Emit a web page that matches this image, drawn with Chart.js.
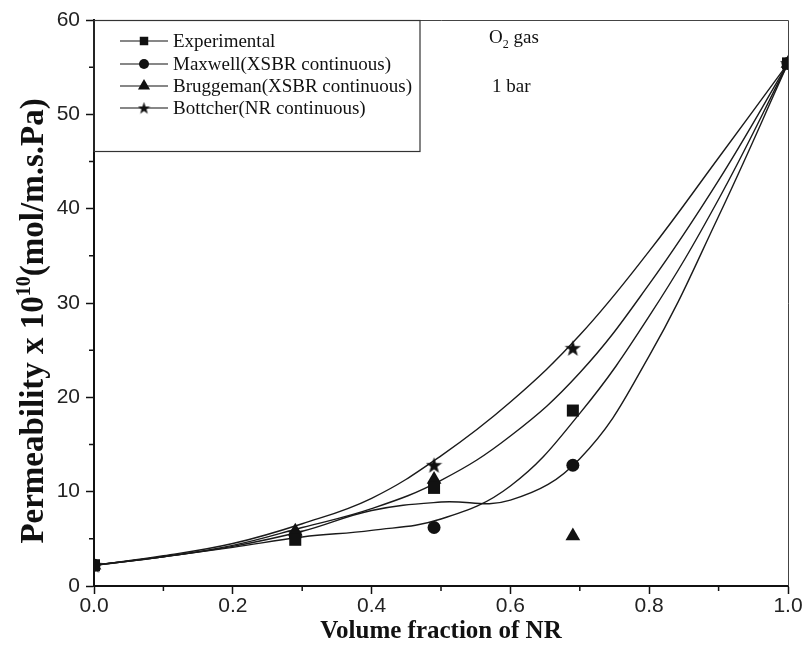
<!DOCTYPE html>
<html>
<head>
<meta charset="utf-8">
<title>Permeability vs volume fraction of NR</title>
<script src="https://cdn.jsdelivr.net/npm/chart.js@4.4.0/dist/chart.umd.min.js"></script>
<style>
    html, body { margin: 0; padding: 0; background: #fff; }
    #wrap { width: 806px; height: 651px; }
</style>
</head>
<body>
<div id="wrap"><canvas id="permChart" width="806" height="651"></canvas></div>
<script>
// Measured points (volume fraction of NR)
const fractionNR = [0, 0.29, 0.49, 0.69, 1.0];
const experimental = [2.2, 4.9, 10.4, 18.6, 55.4];
const maxwell = [2.2, 5.3, 6.2, 12.8, 55.4];
const bruggeman = [2.2, 5.8, 11.3, 5.3, 55.4];
const bottcher = [2.2, 5.6, 12.8, 25.2, 55.4];

// Fitted curves at every 0.1
const fitX = [0, 0.1, 0.2, 0.3, 0.4, 0.5, 0.6, 0.7, 0.8, 0.9, 1.0];
const bottcherFit = [2.2, 3.2, 4.5, 6.6, 9.3, 13.8, 19.5, 26.6, 35.5, 45.4, 55.4];
const bruggemanFit = [2.2, 3.1, 4.3, 6.2, 8.2, 11.2, 15.9, 22.6, 32.0, 43.0, 55.4];
const experimentalFit = [2.2, 3.1, 4.1, 5.2, 5.9, 7.1, 10.6, 18.3, 28.6, 41.0, 55.4];
const maxwellFit = [2.2, 3.1, 4.2, 5.8, 8.0, 8.9, 9.1, 13.5, 24.4, 39.2, 55.4];

// Axis ticks
const xMajorTicks = [0, 0.2, 0.4, 0.6, 0.8, 1.0];
const xTickLabels = ['0.0', '0.2', '0.4', '0.6', '0.8', '1.0'];
const xMinorTicks = [0.1, 0.3, 0.5, 0.7, 0.9];
const yMajorTicks = [0, 10, 20, 30, 40, 50, 60];
const yTickLabels = ['0', '10', '20', '30', '40', '50', '60'];
const yMinorTicks = [5, 15, 25, 35, 45, 55];

const INK = '#111';

function toPoints(xs, ys) {
    return xs.map((x, i) => ({ x: x, y: ys[i] }));
}

// filled five point star used as a marker
function makeStar(size) {
    const c = document.createElement('canvas');
    c.width = size;
    c.height = size;
    const g = c.getContext('2d');
    g.fillStyle = INK;
    g.beginPath();
    for (let i = 0; i < 10; i++) {
        const r = i % 2 === 0 ? size / 2 : size * 0.2;
        const a = -Math.PI / 2 + i * Math.PI / 5;
        const px = size / 2 + r * Math.cos(a);
        const py = size / 2 + 0.5 + r * Math.sin(a);
        if (i === 0) g.moveTo(px, py); else g.lineTo(px, py);
    }
    g.closePath();
    g.fill();
    return c;
}

const starBig = makeStar(17);
const starSmall = makeStar(13);

function majorIndex(list, v) {
    return list.findIndex(t => Math.abs(t - v) < 1e-6);
}

// frame, minor ticks, legend box, notes and axis titles
const decorPlugin = {
    id: 'decor',
    afterDraw(chart) {
        const ctx = chart.ctx;
        const area = chart.chartArea;
        const xs = chart.scales.x;
        const ys = chart.scales.y;
        ctx.save();

        // top and right frame lines
        ctx.strokeStyle = '#444';
        ctx.lineWidth = 1;
        ctx.beginPath();
        ctx.moveTo(area.left, area.top + 0.5);
        ctx.lineTo(area.right + 0.5, area.top + 0.5);
        ctx.lineTo(area.right + 0.5, area.bottom);
        ctx.stroke();

        // minor ticks
        ctx.strokeStyle = INK;
        ctx.lineWidth = 1.5;
        ctx.beginPath();
        xMinorTicks.forEach(v => {
            const px = xs.getPixelForValue(v);
            ctx.moveTo(px, area.bottom);
            ctx.lineTo(px, area.bottom + 5);
        });
        yMinorTicks.forEach(v => {
            const py = ys.getPixelForValue(v);
            ctx.moveTo(area.left - 5, py);
            ctx.lineTo(area.left, py);
        });
        ctx.stroke();

        // legend box
        ctx.strokeStyle = '#333';
        ctx.lineWidth = 1.2;
        ctx.strokeRect(area.left, area.top + 0.5, 326, 131);

        const rows = [
            { label: 'Experimental', style: 'rect', radius: 6 },
            { label: 'Maxwell(XSBR continuous)', style: 'circle', radius: 5 },
            { label: 'Bruggeman(XSBR continuous)', style: 'triangle', radius: 7 },
            { label: 'Bottcher(NR continuous)', style: starSmall, radius: 6 }
        ];
        const rowY = [41, 64, 86, 108];
        ctx.font = '19px "Liberation Serif", "Times New Roman", serif';
        ctx.textBaseline = 'middle';
        ctx.textAlign = 'left';
        rows.forEach((row, i) => {
            const y = rowY[i];
            ctx.strokeStyle = INK;
            ctx.lineWidth = 1.2;
            ctx.beginPath();
            ctx.moveTo(120, y);
            ctx.lineTo(168, y);
            ctx.stroke();
            ctx.fillStyle = INK;
            Chart.helpers.drawPoint(ctx, {
                pointStyle: row.style,
                radius: row.radius,
                rotation: 0,
                borderWidth: 0
            }, 144, y);
            ctx.fillStyle = INK;
            ctx.fillText(row.label, 173, y + 1);
        });

        // condition notes
        ctx.fillText('O', 489, 38);
        const oW = ctx.measureText('O').width;
        ctx.font = '12px "Liberation Serif", "Times New Roman", serif';
        ctx.fillText('2', 489 + oW, 45);
        ctx.font = '19px "Liberation Serif", "Times New Roman", serif';
        ctx.fillText(' gas', 489 + oW + 6, 38);
        ctx.fillText('1 bar', 492, 87);

        // x axis title
        ctx.font = 'bold 25px "Liberation Serif", "Times New Roman", serif';
        ctx.textAlign = 'center';
        ctx.fillText('Volume fraction of NR', (area.left + area.right) / 2, 632);

        // y axis title with superscript
        const partA = 'Permeability x 10';
        const partB = '10';
        const partC = '(mol/m.s.Pa)';
        const bigFont = 'bold 33px "Liberation Serif", "Times New Roman", serif';
        const supFont = 'bold 20px "Liberation Serif", "Times New Roman", serif';
        ctx.font = bigFont;
        const wA = ctx.measureText(partA).width;
        const wC = ctx.measureText(partC).width;
        ctx.font = supFont;
        const wB = ctx.measureText(partB).width;
        const total = wA + wB + wC;
        ctx.translate(43, 321);
        ctx.rotate(-Math.PI / 2);
        ctx.textAlign = 'left';
        ctx.textBaseline = 'alphabetic';
        let cx = -total / 2;
        ctx.font = bigFont;
        ctx.fillText(partA, cx, 0);
        cx += wA;
        ctx.font = supFont;
        ctx.fillText(partB, cx, -13);
        cx += wB;
        ctx.font = bigFont;
        ctx.fillText(partC, cx, 0);

        ctx.restore();
    }
};

document.addEventListener('DOMContentLoaded', function() {
    const chartCtx = document.getElementById('permChart');

    const markerBase = {
        showLine: false,
        backgroundColor: INK,
        borderColor: INK,
        borderWidth: 0
    };
    const curveBase = {
        showLine: true,
        pointRadius: 0,
        borderColor: '#1a1a1a',
        borderWidth: 1.4,
        tension: 0.4,
        fill: false
    };

    new Chart(chartCtx, {
        type: 'scatter',
        data: {
            datasets: [
                Object.assign({ label: 'Experimental', data: toPoints(fractionNR, experimental), pointStyle: 'rect', pointRadius: 8.5 }, markerBase),
                Object.assign({ label: 'Maxwell(XSBR continuous)', data: toPoints(fractionNR, maxwell), pointStyle: 'circle', pointRadius: 6.5 }, markerBase),
                Object.assign({ label: 'Bruggeman(XSBR continuous)', data: toPoints(fractionNR, bruggeman), pointStyle: 'triangle', pointRadius: 8.5 }, markerBase),
                Object.assign({ label: 'Bottcher(NR continuous)', data: toPoints(fractionNR, bottcher), pointStyle: starBig, pointRadius: 8 }, markerBase),
                Object.assign({ label: 'Bottcher fit', data: toPoints(fitX, bottcherFit) }, curveBase),
                Object.assign({ label: 'Bruggeman fit', data: toPoints(fitX, bruggemanFit) }, curveBase),
                Object.assign({ label: 'Experimental fit', data: toPoints(fitX, experimentalFit) }, curveBase),
                Object.assign({ label: 'Maxwell fit', data: toPoints(fitX, maxwellFit) }, curveBase)
            ]
        },
        options: {
            responsive: false,
            animation: false,
            devicePixelRatio: 1,
            layout: {
                padding: { top: 20, right: 18, left: 0, bottom: 0 }
            },
            plugins: {
                legend: { display: false },
                tooltip: { enabled: false },
                title: { display: false }
            },
            scales: {
                x: {
                    type: 'linear',
                    min: 0,
                    max: 1,
                    afterFit: function(scale) { scale.height = 65; },
                    ticks: {
                        stepSize: 0.2,
                        padding: 0,
                        color: '#222',
                        font: { family: '"Liberation Sans", Arial, sans-serif', size: 21 },
                        maxRotation: 0,
                        callback: function(value) {
                            const i = majorIndex(xMajorTicks, value);
                            return i >= 0 ? xTickLabels[i] : '';
                        }
                    },
                    grid: {
                        drawOnChartArea: false,
                        drawTicks: true,
                        tickLength: 8,
                        tickWidth: 1.5,
                        tickColor: INK
                    },
                    border: { display: true, color: INK, width: 2 }
                },
                y: {
                    type: 'linear',
                    min: 0,
                    max: 60,
                    afterFit: function(scale) { scale.width = 94; },
                    ticks: {
                        stepSize: 10,
                        padding: 6,
                        color: '#222',
                        font: { family: '"Liberation Sans", Arial, sans-serif', size: 21 },
                        callback: function(value) {
                            const i = majorIndex(yMajorTicks, value);
                            return i >= 0 ? yTickLabels[i] : '';
                        }
                    },
                    grid: {
                        drawOnChartArea: false,
                        drawTicks: true,
                        tickLength: 8,
                        tickWidth: 1.5,
                        tickColor: INK
                    },
                    border: { display: true, color: INK, width: 2 }
                }
            }
        },
        plugins: [decorPlugin]
    });
});
</script>
</body>
</html>
